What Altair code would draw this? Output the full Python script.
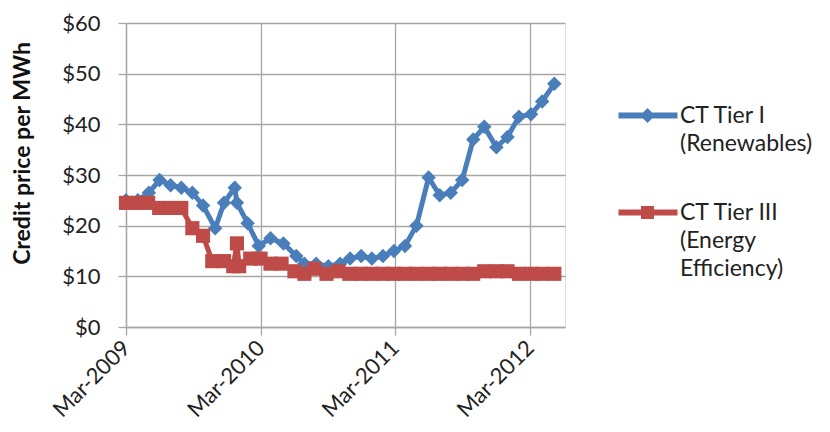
import altair as alt
import pandas as pd

# ---- data ----
blue_dates = ["2009-03-01", "2009-04-02", "2009-05-02", "2009-05-31", "2009-06-30", "2009-07-29",
              "2009-08-28", "2009-09-26", "2009-10-29", "2009-11-22", "2009-12-21", "2009-12-27",
              "2010-01-25", "2010-02-24", "2010-03-28", "2010-05-02", "2010-06-06", "2010-06-28",
              "2010-07-30", "2010-09-01", "2010-10-03", "2010-10-30", "2010-11-29", "2010-12-28",
              "2011-01-27", "2011-02-26", "2011-03-28", "2011-04-28", "2011-05-31", "2011-06-30",
              "2011-07-30", "2011-08-30", "2011-09-29", "2011-10-29", "2011-12-01", "2011-12-31",
              "2012-01-31", "2012-03-04", "2012-04-03", "2012-05-06"]
blue_values = [25, 25, 26.5, 29, 28, 27.5,
               26.5, 24, 19.5, 24.5, 27.5, 24.5,
               20.5, 16, 17.5, 16.5, 14, 12.5,
               12.5, 12, 12.5, 13.5, 14, 13.5,
               14, 15, 16, 20, 29.5, 26,
               26.5, 29, 37, 39.5, 35.5, 37.5,
               41.5, 42, 44.5, 48]

red_dates = ["2009-03-01", "2009-03-31", "2009-04-30", "2009-05-30", "2009-06-29", "2009-07-29",
             "2009-08-28", "2009-09-26", "2009-10-21", "2009-11-22", "2009-12-17", "2009-12-27",
             "2010-01-02", "2010-02-01", "2010-03-01", "2010-03-28", "2010-04-27", "2010-06-01",
             "2010-06-28", "2010-07-25", "2010-08-27", "2010-09-28", "2010-10-28", "2010-11-27",
             "2010-12-28", "2011-01-27", "2011-02-26", "2011-03-28", "2011-04-28", "2011-05-31",
             "2011-06-30", "2011-07-30", "2011-08-30", "2011-09-29", "2011-10-29", "2011-12-01",
             "2011-12-31", "2012-01-31", "2012-03-04", "2012-04-03", "2012-05-06"]
red_values = [24.5, 24.5, 24.5, 23.5, 23.5, 23.5,
              19.5, 18, 13, 13, 12, 16.5,
              12, 13.5, 13.5, 12.5, 12.5, 11,
              10.5, 11.5, 10.5, 11, 10.5, 10.5,
              10.5, 10.5, 10.5, 10.5, 10.5, 10.5,
              10.5, 10.5, 10.5, 10.5, 11, 11,
              11, 10.5, 10.5, 10.5, 10.5]

series_names = ["CT Tier I|(Renewables)", "CT Tier III|(Energy|Efficiency)"]
y_ticks = [0, 10, 20, 30, 40, 50, 60]
x_tick_years = [2009, 2010, 2011, 2012]

BLUE = "#4A7EBB"
RED = "#BE4B48"
GRID = "#A6A6A6"
FONT = "Lato"

df = pd.concat([
    pd.DataFrame({"date": pd.to_datetime(blue_dates), "price": blue_values, "series": series_names[0]}),
    pd.DataFrame({"date": pd.to_datetime(red_dates), "price": red_values, "series": series_names[1]}),
], ignore_index=True)

x_enc = alt.X(
    "date:T",
    scale=alt.Scale(domain=[alt.DateTime(year=2009, month=3, date=1),
                            alt.DateTime(year=2012, month=6, date=4)]),
    axis=alt.Axis(
        title=None,
        values=[alt.DateTime(year=y, month=3, date=1) for y in x_tick_years],
        format="%b-%Y",
        labelAngle=-45, labelAlign="right", labelBaseline="middle",
        labelPadding=9, labelFontSize=22, labelColor="#222222", labelFont=FONT,
        tickSize=8, tickColor=GRID, domainColor=GRID, gridColor=GRID,
        grid=True, tickWidth=1.3, gridWidth=1.3, domainWidth=1.3,
    ),
)
y_enc = alt.Y(
    "price:Q",
    scale=alt.Scale(domain=[0, 60], nice=False),
    axis=alt.Axis(
        title="Credit price per MWh",
        values=y_ticks,
        labelExpr="'$' + datum.value",
        labelFontSize=22, labelColor="#222222", labelFont=FONT,
        labelPadding=18,
        tickSize=8, tickColor=GRID, domainColor=GRID, gridColor=GRID,
        grid=True, tickWidth=1.3, gridWidth=1.3, domainWidth=1.3,
        titleFont=FONT, titleFontSize=23, titleFontWeight="bold", titleColor="#111111",
        titleAngle=270, titleAlign="center", titleBaseline="bottom",
        titleX=-92, titleY=130,
    ),
)

base = alt.Chart(df)
blue_line = base.transform_filter(alt.datum.series == series_names[0]).mark_line(
    color=BLUE, strokeWidth=5).encode(x=x_enc, y=y_enc)
blue_pts = base.transform_filter(alt.datum.series == series_names[0]).mark_point(
    shape="diamond", filled=True, size=210, color=BLUE, opacity=1).encode(x=x_enc, y=y_enc)
red_line = base.transform_filter(alt.datum.series == series_names[1]).mark_line(
    color=RED, strokeWidth=5).encode(x=x_enc, y=y_enc)
red_pts = base.transform_filter(alt.datum.series == series_names[1]).mark_point(
    shape="square", filled=True, size=200, color=RED, opacity=1).encode(x=x_enc, y=y_enc)

# legend symbols: a line segment with the series marker
PATH_B = ("M-4.8,-0.3H1.1V0.3H-4.8Z "
          "M-1.9,-0.75L-1.15,0L-1.9,0.75L-2.65,0Z")
PATH_R = ("M-4.8,-0.3H1.1V0.3H-4.8Z "
          "M-2.55,-0.65H-1.25V0.65H-2.55Z")

leg = alt.Legend(
    title=None, orient="none", legendX=529, legendY=81,
    labelExpr="split(datum.label, '|')",
    labelFont=FONT, labelFontSize=23, labelColor="#222222", labelLimit=400,
    labelOffset=2, symbolSize=400, symbolStrokeWidth=0, symbolOpacity=1,
    rowPadding=45,
)
legend_layer = base.mark_point(filled=True, opacity=1).encode(
    color=alt.Color("series:N", scale=alt.Scale(domain=series_names, range=[BLUE, RED]), legend=leg),
    shape=alt.Shape("series:N", scale=alt.Scale(domain=series_names, range=[PATH_B, PATH_R]), legend=leg),
).transform_filter("false")

chart = alt.layer(blue_line, blue_pts, red_line, red_pts, legend_layer).properties(
    width=439, height=304,
    padding={"left": 118, "top": 15, "right": 257, "bottom": 97},
    autosize=alt.AutoSizeParams(type="none"),
    background="white",
).configure_view(stroke=None).configure(
    font=FONT,
    style={"guide-label": {"lineHeight": 28}},
)

chart.save("out.html", embed_options={"renderer": "svg", "actions": False})
